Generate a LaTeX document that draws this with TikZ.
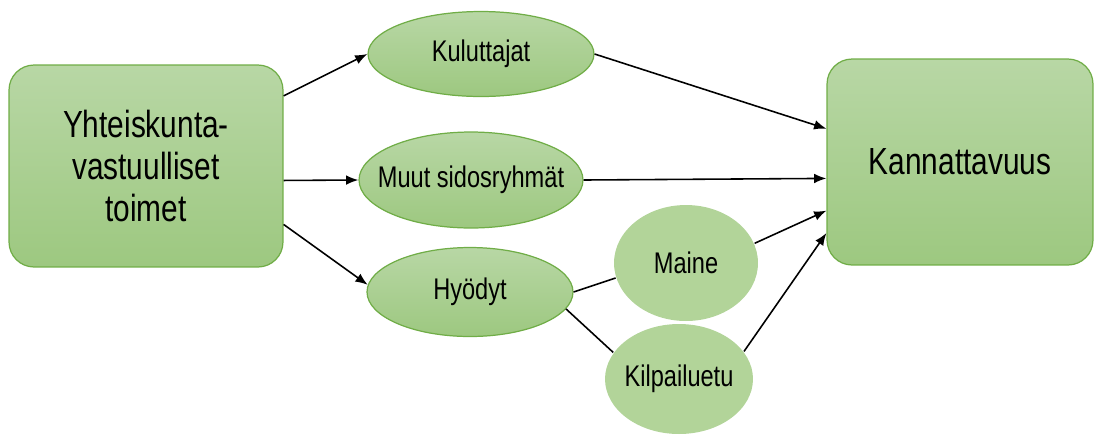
\documentclass[tikz,border=0pt]{standalone}
\usepackage{fontspec}
\setmainfont{Liberation Sans}[FakeStretch=0.79]
\usetikzlibrary{arrows.meta, shapes.geometric}
\definecolor{gtop}{RGB}{184,215,165}
\definecolor{gbot}{RGB}{157,200,128}
\definecolor{gline}{RGB}{112,173,71}
\definecolor{gdot}{RGB}{178,212,153}
\tikzset{>={Latex[length=7pt,width=5.5pt]}}

\begin{document}
\begin{tikzpicture}[x=0.02cm, y=-0.02cm, line width=0.9pt,
  bigbox/.style={draw=gline, line width=0.7pt, rounded corners=0.5cm, top color=gtop, bottom color=gbot, align=center, font=\fontsize{21.5}{24}\selectfont},
  oval/.style={ellipse, draw=gline, line width=0.7pt, top color=gtop, bottom color=gbot, inner sep=0pt, font=\fontsize{17}{19}\selectfont},
  dotoval/.style={ellipse, draw=none, fill=gdot, inner sep=0pt, font=\fontsize{17}{19}\selectfont}]

\useasboundingbox (0,0) rectangle (1094,434);

\node[bigbox, minimum width=5.48cm, minimum height=4.04cm] (toimet) at (146,166) {Yhteiskunta-\\vastuulliset\\toimet};
\node[bigbox, minimum width=5.32cm, minimum height=4.12cm] (kann) at (960,162) {Kannattavuus};

\node[oval, minimum width=4.52cm, minimum height=1.7cm] (kul) at (481,54) {\makebox[0pt]{Kuluttajat}};
\node[oval, minimum width=4.48cm, minimum height=1.92cm] (muut) at (471,180) {\makebox[0pt]{Muut sidosryhmät}};
\node[oval, minimum width=4.12cm, minimum height=1.78cm] (hyo) at (470,292) {\makebox[0pt]{Hyödyt}};
\node[dotoval, minimum width=2.88cm, minimum height=2.32cm] (maine) at (686,263) {\makebox[0pt]{Maine}};
\node[dotoval, minimum width=2.96cm, minimum height=2.2cm] (kilp) at (679,379) {\makebox[0pt]{Kilpailuetu}};

\draw[->] (toimet.27) -- (kul.west);
\draw[->] (toimet.-6) -- (muut.west);
\draw[->] (toimet.-23) -- (hyo.176);
\draw[->] (kul.east) -- (kann.166.5);
\draw[->] (muut.east) -- (kann.187);
\draw[->] (maine.16) -- (kann.200.6);
\draw[->] (kilp.23.6) -- (kann.208.8);
\draw (hyo.east) -- (maine.192.7);
\draw (hyo.-10.5) -- (kilp.158.8);

\end{tikzpicture}
\end{document}
